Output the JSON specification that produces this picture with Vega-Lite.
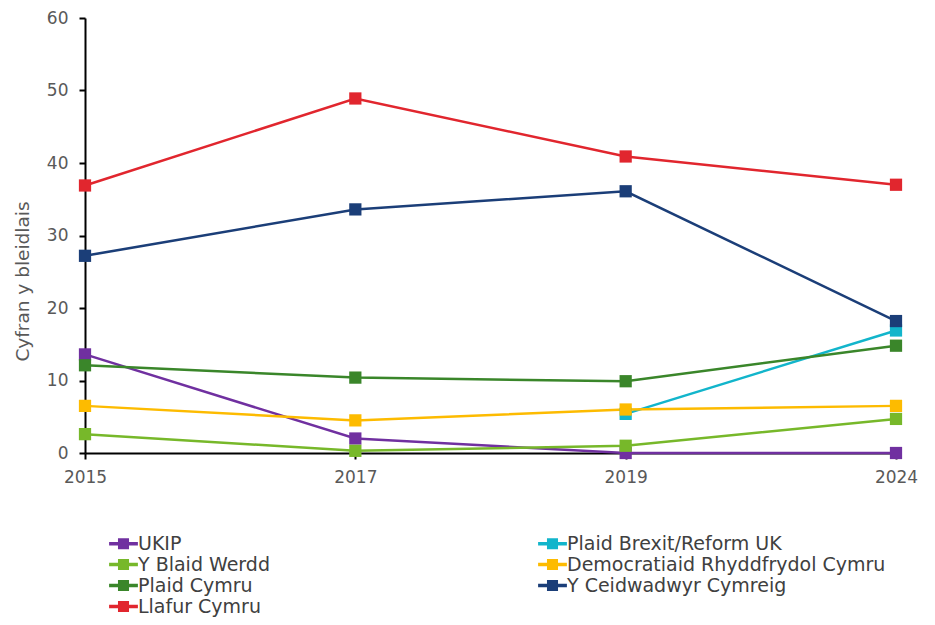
{
  "$schema": "https://vega.github.io/schema/vega-lite/v6.json",
  "width": 811,
  "height": 435,
  "autosize": {"type": "none"},
  "padding": {"left": 85, "top": 18, "right": 39, "bottom": 172},
  "background": "white",
  "config": {
    "view": {"stroke": null},
    "font": "DejaVu Sans",
    "axis": {"grid": false, "domainColor": "#000000", "domainWidth": 2, "tickColor": "#000000", "tickWidth": 2, "tickSize": 6, "labelColor": "#595959", "labelFont": "DejaVu Sans", "labelFontSize": 17, "titleColor": "#595959", "titleFont": "DejaVu Sans", "titleFontSize": 18.5, "titleFontWeight": "normal"}
  },
  "data": {
    "values": [
      {"party": "UKIP", "year": "2015", "value": 13.6},
      {"party": "UKIP", "year": "2017", "value": 2.0},
      {"party": "UKIP", "year": "2019", "value": 0},
      {"party": "UKIP", "year": "2024", "value": 0},
      {"party": "Y Blaid Werdd", "year": "2015", "value": 2.6},
      {"party": "Y Blaid Werdd", "year": "2017", "value": 0.3},
      {"party": "Y Blaid Werdd", "year": "2019", "value": 1.0},
      {"party": "Y Blaid Werdd", "year": "2024", "value": 4.7},
      {"party": "Plaid Brexit/Reform UK", "year": "2019", "value": 5.4},
      {"party": "Plaid Brexit/Reform UK", "year": "2024", "value": 16.9},
      {"party": "Democratiaid Rhyddfrydol Cymru", "year": "2015", "value": 6.5},
      {"party": "Democratiaid Rhyddfrydol Cymru", "year": "2017", "value": 4.5},
      {"party": "Democratiaid Rhyddfrydol Cymru", "year": "2019", "value": 6.0},
      {"party": "Democratiaid Rhyddfrydol Cymru", "year": "2024", "value": 6.5},
      {"party": "Plaid Cymru", "year": "2015", "value": 12.1},
      {"party": "Plaid Cymru", "year": "2017", "value": 10.4},
      {"party": "Plaid Cymru", "year": "2019", "value": 9.9},
      {"party": "Plaid Cymru", "year": "2024", "value": 14.8},
      {"party": "Y Ceidwadwyr Cymreig", "year": "2015", "value": 27.2},
      {"party": "Y Ceidwadwyr Cymreig", "year": "2017", "value": 33.6},
      {"party": "Y Ceidwadwyr Cymreig", "year": "2019", "value": 36.1},
      {"party": "Y Ceidwadwyr Cymreig", "year": "2024", "value": 18.2},
      {"party": "Llafur Cymru", "year": "2015", "value": 36.9},
      {"party": "Llafur Cymru", "year": "2017", "value": 48.9},
      {"party": "Llafur Cymru", "year": "2019", "value": 40.9},
      {"party": "Llafur Cymru", "year": "2024", "value": 37.0}
    ]
  },
  "encoding": {
    "x": {"field": "year", "type": "ordinal", "scale": {"type": "point", "padding": 0},
      "axis": {"title": null, "labelAngle": 0, "labelPadding": 10}},
    "y": {"field": "value", "type": "quantitative", "scale": {"domain": [0, 60]},
      "axis": {"title": "Cyfran y bleidlais", "values": [0, 10, 20, 30, 40, 50, 60], "labelPadding": 11, "titleX": -63, "titleY": 263, "titleAngle": -90, "titleAlign": "center", "titleBaseline": "middle"}},
    "color": {"field": "party", "type": "nominal",
      "scale": {
        "domain": ["UKIP", "Plaid Brexit/Reform UK", "Y Blaid Werdd", "Democratiaid Rhyddfrydol Cymru", "Plaid Cymru", "Y Ceidwadwyr Cymreig", "Llafur Cymru"],
        "range": ["#7030A0", "#12B5CB", "#77B82A", "#FDBB00", "#3A862A", "#1B3E78", "#E1262E"]
      },
      "legend": {"title": null, "orient": "none", "legendX": 29, "legendY": 516, "direction": "horizontal", "columns": 2, "columnPadding": 268, "rowPadding": 1, "labelLimit": 0,
        "symbolType": "M-2.4,-0.29H2.4V0.29H-2.4Z M-0.92,-0.92H0.92V0.92H-0.92Z", "symbolSize": 144, "symbolStrokeWidth": 0, "labelFontSize": 19, "labelColor": "#404040", "labelOffset": 5, "labelFont": "DejaVu Sans"}
    },
    "order": {"field": "year"}
  },
  "layer": [
    {"mark": {"type": "line", "strokeWidth": 2.5}},
    {"mark": {"type": "point", "shape": "square", "filled": true, "opacity": 1, "size": 150}}
  ]
}
